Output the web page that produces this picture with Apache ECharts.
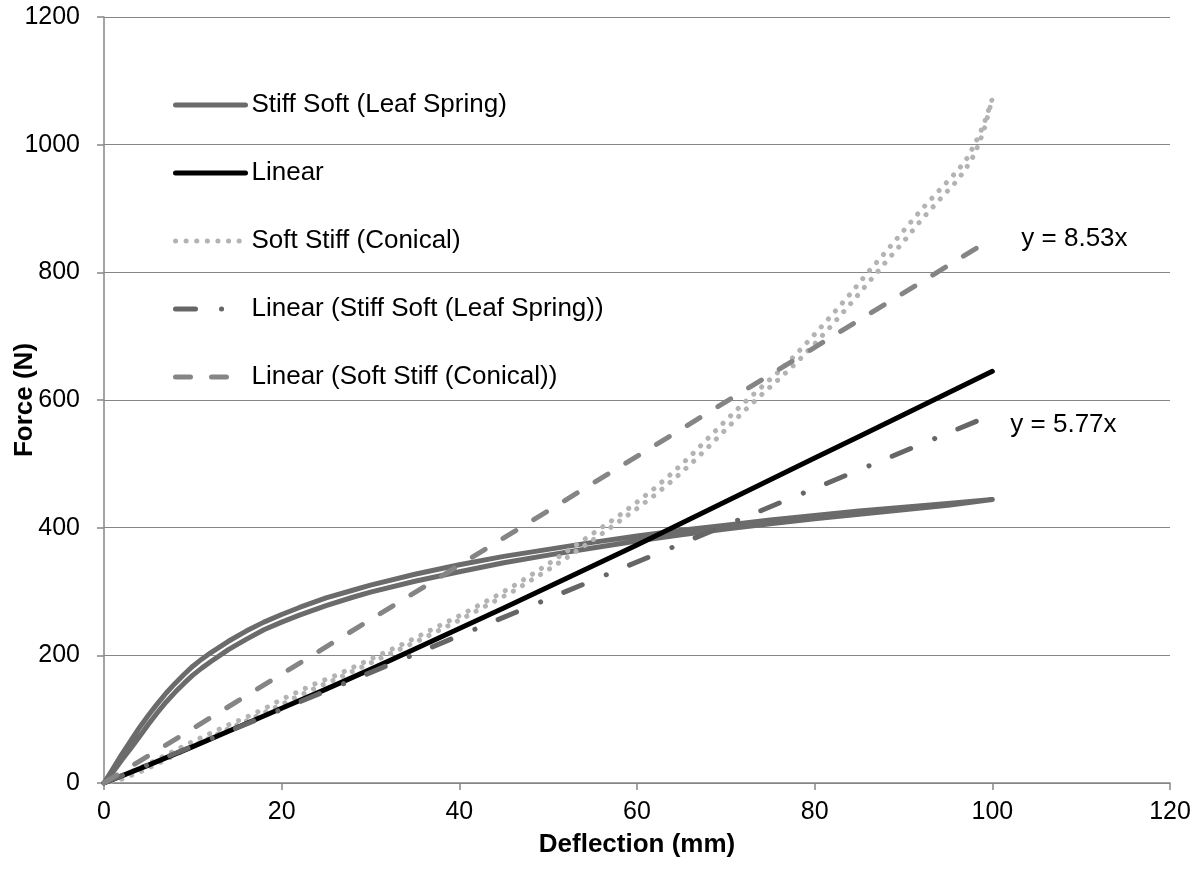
<!DOCTYPE html>
<html>
<head>
<meta charset="utf-8">
<title>Force vs Deflection</title>
<script src="https://cdn.jsdelivr.net/npm/echarts@6/dist/echarts.min.js"></script>
<style>
  html, body { margin: 0; padding: 0; background: #fff; }
  #chart { width: 1198px; height: 869px; }
</style>
</head>
<body>
<div id="chart"></div>
<script>
// Leaf spring (stiff-soft): loading branch and unloading branch, deflection in mm, force in N
const leafX = [0,1,2,3,4,5,6,7,8,9,10,11,12,14,16,18,20,22,25,28,30,35,40,45,50,55,60,65,70,75,80,85,90,95,100];
const leafLoadF = [0,22,45,66,87,106,124,141,156,170,183,194,204,222,238,252,264,275,290,302,310,327,342,355,366,377,387,396,404,412,419,426,432,438,444];
const leafUnloadF = [0,17,36,54,73,92,110,127,142,156,169,180,190,209,225,240,252,263,278,291,299,316,331,345,357,368,379,389,398,406,414,421,428,435,441];

// Linear spring
const linearX = [0,5,10,15,20,25,30,35,40,45,50,55,60,65,70,75,80,85,90,95,100];
const linearF = [0,28,57,87,117,147,178,210,242,274,307,340,373,407,441,475,509,543,577,611,645];

// Conical spring (soft-stiff): loading and unloading branches
const conicalX = [0,2,4,6,8,10,12,14,16,18,20,22,24,26,28,30,32,34,36,38,40,42,44,46,48,50,52,54,56,58,60,62,64,66,68,70,72,74,76,78,80,82,84,86,88,90,92,94,96,97,98,99,100];
const conicalLoadF = [0,11,23,37,51,65,78,91,103,116,131,144,157,168,181,194,207,220,234,248,262,277,292,308,325,343,362,381,400,419,440,462,486,512,540,568,595,620,645,673,703,734,766,800,832,865,898,928,958,975,1000,1030,1072];
const conicalUnloadF = [0,6,17,30,44,58,71,85,97,110,123,137,150,162,175,188,201,214,227,241,255,270,285,300,317,334,352,371,390,410,430,451,474,499,526,554,582,608,633,659,688,718,750,783,816,848,882,913,943,962,985,1020,1072];

// Linear trendlines through the origin
const trendX = [0, 100];
const leafSlope = 5.77;
const conicalSlope = 8.53;

// Axis ticks
const xTicks = { min: 0, max: 120, step: 20 };
const yTicks = { min: 0, max: 1200, step: 200 };

const names = [
  'Stiff Soft (Leaf Spring)',
  'Linear',
  'Soft Stiff (Conical)',
  'Linear (Stiff Soft (Leaf Spring))',
  'Linear (Soft Stiff (Conical))'
];

function zip(xs, ys) { return xs.map((x, i) => [x, ys[i]]); }
function loop(xs, up, down) {
  const out = zip(xs, up);
  for (let i = xs.length - 2; i >= 0; i--) out.push([xs[i], down[i]]);
  return out;
}
function trend(slope) { return trendX.map(x => [x, +(slope * x).toFixed(2)]); }

const FONT = '"Liberation Sans", Arial, Helvetica, sans-serif';
const AXIS_GREY = '#868686';

const chart = echarts.init(document.getElementById('chart'), null, { renderer: 'canvas' });

chart.setOption({
  animation: false,
  backgroundColor: '#ffffff',
  textStyle: { fontFamily: FONT },
  grid: { left: 104, right: 28, top: 17, bottom: 86, containLabel: false, outerBoundsMode: 'none' },
  legend: {
    orient: 'vertical',
    left: 173,
    top: 91,
    padding: 0,
    itemWidth: 70,
    itemHeight: 20,
    itemGap: 40,
    data: names,
    selectedMode: false,
    itemStyle: { color: 'rgba(0,0,0,0)', borderWidth: 0, opacity: 0 },
    lineStyle: { width: 'inherit' },
    textStyle: { fontFamily: FONT, fontSize: 26, color: '#000', lineHeight: 28, padding: [0, 0, 0, 1] }
  },
  xAxis: {
    type: 'value',
    min: xTicks.min,
    max: xTicks.max,
    interval: xTicks.step,
    name: 'Deflection (mm)',
    nameLocation: 'middle',
    nameGap: 49,
    nameMoveOverlap: false,
    nameTextStyle: { fontFamily: FONT, fontSize: 26, fontWeight: 'bold', color: '#000' },
    axisLine: { show: true, onZero: false, lineStyle: { color: AXIS_GREY, width: 1.5 } },
    axisTick: { show: true, inside: false, length: 7, lineStyle: { color: AXIS_GREY, width: 1.5 } },
    axisLabel: { fontFamily: FONT, fontSize: 25, color: '#000', margin: 17, formatter: v => String(v) },
    splitLine: { show: false }
  },
  yAxis: {
    type: 'value',
    min: yTicks.min,
    max: yTicks.max,
    interval: yTicks.step,
    name: 'Force (N)',
    nameLocation: 'middle',
    nameGap: 66,
    nameMoveOverlap: false,
    nameTextStyle: { fontFamily: FONT, fontSize: 26, fontWeight: 'bold', color: '#000' },
    axisLine: { show: true, onZero: false, lineStyle: { color: AXIS_GREY, width: 1.5 } },
    axisTick: { show: true, inside: false, length: 7, lineStyle: { color: AXIS_GREY, width: 1.5 } },
    axisLabel: { fontFamily: FONT, fontSize: 25, color: '#000', margin: 24, formatter: v => String(v) },
    splitLine: { show: true, lineStyle: { color: AXIS_GREY, width: 1.2 } }
  },
  series: [
    {
      name: names[0],
      type: 'line',
      data: loop(leafX, leafLoadF, leafUnloadF),
      symbol: 'none',
      smooth: false,
      lineStyle: { color: '#6b6b6b', width: 5, cap: 'round', join: 'round' },
      itemStyle: { color: '#6b6b6b' },
      z: 2
    },
    {
      name: names[1],
      type: 'line',
      data: zip(linearX, linearF),
      symbol: 'none',
      lineStyle: { color: '#000000', width: 5, cap: 'round', join: 'round' },
      itemStyle: { color: '#000000' },
      z: 3
    },
    {
      name: names[2],
      type: 'line',
      data: loop(conicalX, conicalLoadF, conicalUnloadF),
      symbol: 'none',
      lineStyle: { color: '#b3b3b3', width: 5, type: [0.1, 10.5], cap: 'round', join: 'round' },
      itemStyle: { color: '#b3b3b3' },
      z: 2
    },
    {
      name: names[3],
      type: 'line',
      data: trend(leafSlope),
      symbol: 'none',
      lineStyle: { color: '#666666', width: 5, type: [20, 26, 0.1, 25], cap: 'round' },
      itemStyle: { color: '#666666' },
      endLabel: {
        show: true,
        formatter: 'y = ' + leafSlope.toFixed(2) + 'x',
        color: '#000',
        fontFamily: FONT,
        fontSize: 26,
        offset: [10, 10]
      },
      z: 4
    },
    {
      name: names[4],
      type: 'line',
      data: trend(conicalSlope),
      symbol: 'none',
      lineStyle: { color: '#858585', width: 5, type: [15, 21], cap: 'round' },
      itemStyle: { color: '#858585' },
      endLabel: {
        show: true,
        formatter: 'y = ' + conicalSlope.toFixed(2) + 'x',
        color: '#000',
        fontFamily: FONT,
        fontSize: 26,
        offset: [21, 0]
      },
      z: 4
    }
  ]
});
</script>
</body>
</html>
